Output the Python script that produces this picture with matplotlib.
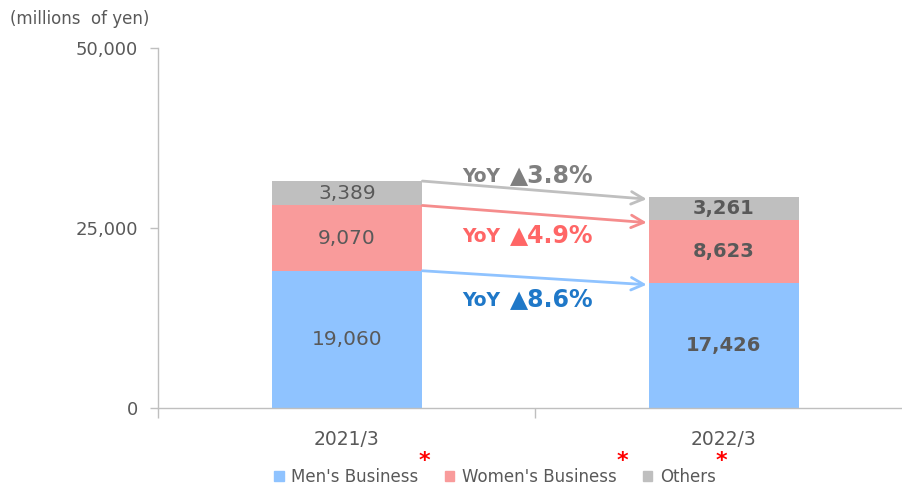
import matplotlib
matplotlib.use("Agg")
import matplotlib.pyplot as plt
from matplotlib.patches import Patch

categories = ["2021/3", "2022/3"]
mens = [19060, 17426]
womens = [9070, 8623]
others = [3389, 3261]
series_names = ["Men's Business", "Women's Business", "Others"]
yoy_labels = ["3.8%", "4.9%", "8.6%"]  # Others, Women's, Men's
y_ticks = [0, 25000, 50000]
y_tick_labels = ["0", "25,000", "50,000"]

c_blue = "#8FC3FF"
c_pink = "#F99B9B"
c_gray = "#BFBFBF"
txt = "#595959"

W, H = 903, 486
fig = plt.figure(figsize=(W / 100, H / 100), dpi=100)
plt.rcParams['font.family'] = ['DejaVu Sans']
left_px, right_px, bottom_px, top_px = 158.5, 903, 408, 48
ax = fig.add_axes([left_px / W, 1 - bottom_px / H, (right_px - left_px) / W, (bottom_px - top_px) / H])

x = list(range(len(categories)))
bw = 0.40
ax.bar(x, mens, width=bw, color=c_blue, zorder=2)
b1 = [m for m in mens]
ax.bar(x, womens, width=bw, bottom=b1, color=c_pink, zorder=2)
b2 = [m + w for m, w in zip(mens, womens)]
ax.bar(x, others, width=bw, bottom=b2, color=c_gray, zorder=2)
tops = [m + w + o for m, w, o in zip(mens, womens, others)]

ax.set_xlim(-0.5, -0.5 + (right_px - left_px) / 377.0)
ax.set_ylim(0, 50000)

# data labels
for i in x:
    weight = "normal" if i == 0 else "bold"
    fs = 14.5 if i == 0 else 14
    for bottom, val in [(0, mens[i]), (b1[i], womens[i]), (b2[i], others[i])]:
        ax.text(i, bottom + val / 2, f"{val:,}", ha="center", va="center",
                fontsize=fs, color=txt, fontweight=weight, zorder=3)

# arrows
arrow_specs = [
    (tops, c_gray),
    (b2, "#F58C8C"),
    (b1, c_blue),
]
for vals, col in arrow_specs:
    ax.annotate("", xy=(1 - bw / 2 - 0.005, vals[1] - 300), xytext=(bw / 2, vals[0]),
                arrowprops=dict(arrowstyle="->,head_length=0.9,head_width=0.45", color=col,
                                lw=2.0, shrinkA=0, shrinkB=0), zorder=4)

# YoY texts
yoy_specs = [
    (31400, "#7F7F7F", yoy_labels[0]),
    (23050, "#FF6666", yoy_labels[1]),
    (14170, "#1F78C8", yoy_labels[2]),
]
for yb, col, lab in yoy_specs:
    ax.text(0.305, yb, "YoY", ha="left", va="baseline", fontsize=13.5,
            color=col, fontweight="bold", zorder=5)
    ax.text(0.432, yb, "\u25B2" + lab, ha="left", va="baseline", fontsize=17,
            color=col, fontweight="bold", zorder=5)

# axes styling
for s in ["top", "right"]:
    ax.spines[s].set_visible(False)
ax.spines["left"].set_color("#BFBFBF")
ax.spines["bottom"].set_color("#BFBFBF")
ax.spines["left"].set_linewidth(1.0)
ax.spines["bottom"].set_linewidth(1.0)

ax.set_yticks(y_ticks)
ax.set_yticklabels(y_tick_labels)
ax.tick_params(axis="y", length=6, width=1, color="#BFBFBF", pad=9, labelsize=13, labelcolor=txt)

ax.set_xticks(x)
ax.set_xticklabels(categories)
ax.tick_params(axis="x", which="major", length=0, pad=16, labelsize=13.5, labelcolor=txt)
ax.set_xticks([-0.5, 0.5], minor=True)
ax.tick_params(axis="x", which="minor", length=7, width=1, color="#BFBFBF")

fig.text(10 / W, 1 - 19 / H, "(millions  of yen)", ha="left", va="center", fontsize=12, color=txt)

handles = [Patch(color=c_blue), Patch(color=c_pink), Patch(color=c_gray)]
leg = fig.legend(handles, series_names, loc="center", bbox_to_anchor=(495 / W, 1 - 477 / H),
                 ncol=3, frameon=False, fontsize=12, handlelength=0.55, handleheight=0.55,
                 handletextpad=0.45, columnspacing=1.6, labelcolor=txt)

fig.canvas.draw()
r = fig.canvas.get_renderer()
for t in leg.get_texts():
    bb = t.get_window_extent(r)
    fig.text((bb.x1 + 0) / W, (bb.y1 + 7) / H, "*", ha="left", va="center",
             fontsize=16, color="#FF0000", fontweight="bold")

fig.savefig("out.png", dpi=100)
